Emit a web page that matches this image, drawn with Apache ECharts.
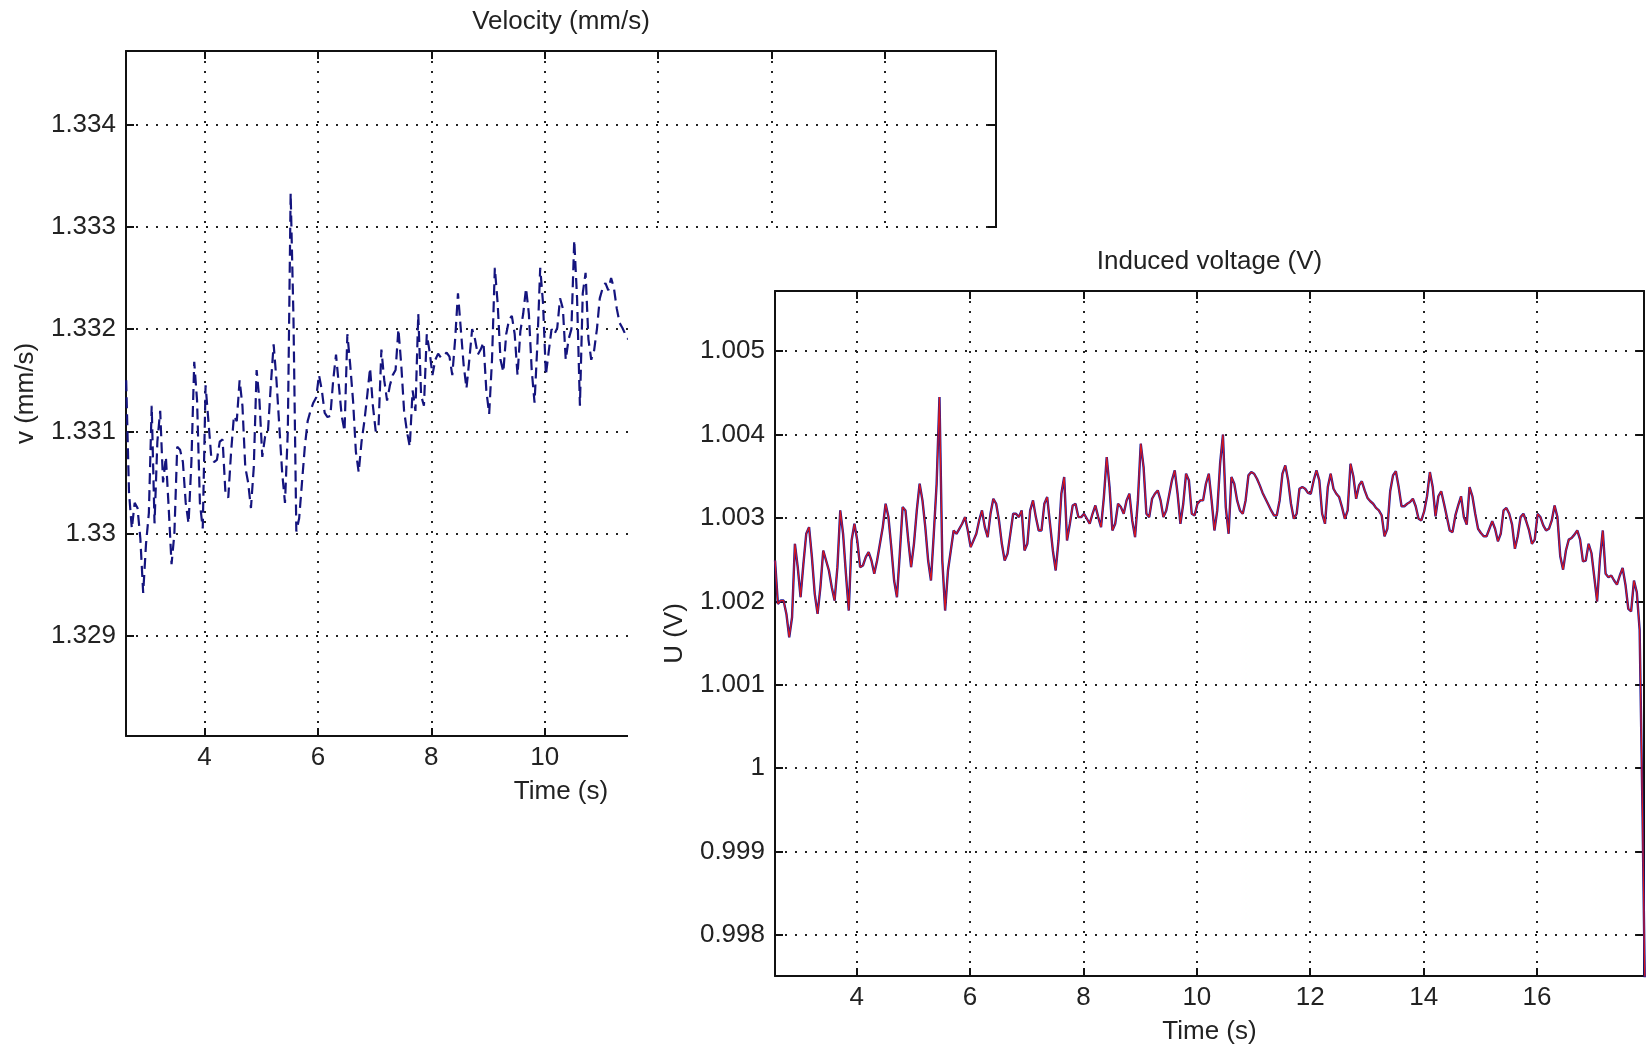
<!DOCTYPE html>
<html>
<head>
<meta charset="utf-8">
<script src="https://cdn.jsdelivr.net/npm/echarts@6/dist/echarts.min.js"></script>
<style>
html,body{margin:0;padding:0;background:#fff;}
#c1{position:absolute;left:0;top:0;width:1646px;height:1050px;}
#c2{position:absolute;left:628px;top:228px;width:1018px;height:822px;background:#fff;}
</style>
</head>
<body>
<div id="c1"></div>
<div id="c2"></div>
<script>
// ---------- data ----------
const velocityTitle = 'Velocity (mm/s)';
const voltageTitle = 'Induced voltage (V)';
const timeName = 'Time (s)';
const velocityName = 'v (mm/s)';
const voltageName = 'U (V)';

// sample times: start and step (s)
const velocityT0 = 2.62, velocityDt = 0.05;
const velocity = [
1.3315,1.3304,1.33005,1.3303,1.33025,1.32995,1.32942,1.3299,1.3302,1.33125,
1.3301,1.3309,1.3312,1.3305,1.33075,1.33025,1.3297,1.33,1.33085,1.33082,
1.3307,1.3303,1.3301,1.3307,1.33168,1.3313,1.3303,1.33005,1.33145,1.3311,
1.33075,1.3307,1.33072,1.3309,1.33092,1.3304,1.33035,1.3308,1.33115,1.3311,
1.3315,1.33125,1.33065,1.3305,1.33025,1.33065,1.3316,1.3313,1.33075,1.33095,
1.331,1.33145,1.33185,1.3315,1.33105,1.3306,1.3303,1.331,1.33333,1.3321,
1.33002,1.33015,1.3305,1.33085,1.3311,1.3312,1.33128,1.33133,1.33155,1.3314,
1.33118,1.33114,1.33115,1.3315,1.33175,1.33145,1.33115,1.331,1.33195,1.33165,
1.3313,1.3308,1.3306,1.3309,1.3311,1.33135,1.33162,1.33125,1.331,1.33105,
1.3318,1.3315,1.3313,1.33145,1.33155,1.3316,1.332,1.33165,1.3312,1.331,
1.33085,1.3314,1.3312,1.33215,1.33135,1.33125,1.33195,1.33178,1.33155,1.3317,
1.33176,1.33172,1.33174,1.33177,1.33173,1.33155,1.3319,1.33235,1.332,1.33165,
1.33142,1.3317,1.332,1.3319,1.33175,1.3318,1.33187,1.3314,1.33117,1.3317,
1.3326,1.33225,1.3317,1.33158,1.33195,1.33209,1.33213,1.33195,1.33155,1.33198,
1.33215,1.3324,1.33215,1.3316,1.33128,1.33185,1.3326,1.33225,1.33155,1.33178,
1.332,1.33195,1.33201,1.3323,1.3322,1.3317,1.3319,1.332,1.33287,1.3323,
1.33125,1.33235,1.33255,1.3319,1.3317,1.33179,1.332,1.3323,1.3324,1.33245,
1.33238,1.3325,1.3324,1.3322,1.33206,1.33201,1.33195,1.3319,1.33195,1.332,
1.3321
];

const voltageT0 = 2.56, voltageDt = 0.05;
const voltage = [
1.00249,1.00197,1.00201,1.00201,1.00185,1.00157,1.00181,1.00269,1.00241,1.00205,
1.00245,1.00281,1.00289,1.00253,1.00209,1.00185,1.00217,1.00261,1.00249,1.00237,
1.00217,1.00201,1.00241,1.00309,1.00281,1.00233,1.00189,1.00273,1.00293,1.00273,
1.00241,1.00243,1.00253,1.00259,1.00249,1.00233,1.00249,1.00269,1.00289,1.00317,
1.00301,1.00265,1.00225,1.00205,1.00257,1.00313,1.00309,1.00273,1.00241,1.00269,
1.00309,1.00341,1.00321,1.00289,1.00249,1.00225,1.00281,1.00341,1.00445,1.00249,
1.00189,1.00237,1.00261,1.00285,1.00281,1.00287,1.00293,1.00301,1.00285,1.00265,
1.00273,1.00281,1.00297,1.00309,1.00289,1.00277,1.00305,1.00323,1.00317,1.00297,
1.00269,1.00249,1.00257,1.00281,1.00305,1.00305,1.00301,1.00309,1.00261,1.00269,
1.00309,1.00321,1.00301,1.00285,1.00285,1.00317,1.00325,1.00293,1.00261,1.00237,
1.00273,1.00329,1.00349,1.00273,1.00293,1.00315,1.00317,1.00301,1.00301,1.00305,
1.00299,1.00293,1.00305,1.00315,1.00301,1.00289,1.00325,1.00373,1.00337,1.00285,
1.00293,1.00317,1.00313,1.00305,1.00321,1.00329,1.00297,1.00277,1.00321,1.00389,
1.00361,1.00305,1.00301,1.00323,1.00329,1.00333,1.00321,1.00301,1.00309,1.00327,
1.00345,1.00357,1.00329,1.00293,1.00317,1.00353,1.00345,1.00305,1.00303,1.00317,
1.00321,1.00321,1.00341,1.00353,1.00321,1.00285,1.00309,1.00365,1.004,1.00313,
1.00281,1.00349,1.00341,1.00321,1.00309,1.00305,1.00321,1.00351,1.00355,1.00353,
1.00347,1.00339,1.0033,1.00323,1.00316,1.00309,1.00303,1.00303,1.00321,1.00353,
1.00363,1.00345,1.00317,1.00299,1.00305,1.00335,1.00337,1.00335,1.0033,1.00329,
1.00345,1.00357,1.00345,1.00305,1.00293,1.00337,1.00353,1.00335,1.00329,1.00325,
1.00313,1.00299,1.00309,1.00365,1.0035,1.00323,1.00339,1.00344,1.00333,1.00324,
1.0032,1.00317,1.00312,1.00309,1.00303,1.00278,1.00287,1.00332,1.00351,1.00356,
1.00337,1.00314,1.00314,1.00317,1.00319,1.00323,1.00314,1.00299,1.00297,1.00308,
1.00326,1.00355,1.00337,1.00302,1.00326,1.00332,1.00317,1.00301,1.00285,1.00283,
1.00303,1.00315,1.00326,1.00301,1.00292,1.00337,1.00326,1.00305,1.00287,1.00282,
1.00278,1.00278,1.00287,1.00296,1.00287,1.00272,1.00281,1.00309,1.00312,1.00305,
1.00292,1.00263,1.00278,1.00301,1.00305,1.00296,1.00285,1.00269,1.00274,1.00305,
1.00301,1.00291,1.00285,1.00287,1.00297,1.00315,1.00301,1.00254,1.00238,1.00261,
1.00274,1.00276,1.0028,1.00285,1.00274,1.00248,1.00249,1.00269,1.00258,1.00229,
1.002,1.00251,1.00285,1.00233,1.00229,1.00231,1.00225,1.0022,1.00231,1.0024,
1.0022,1.00191,1.00188,1.00225,1.00211,1.00166,0.9995,0.997
];

const timeTicks = [4, 6, 8, 10, 12, 14, 16];
const timeTickLabels = ['4', '6', '8', '10', '12', '14', '16'];
const velocityTicks = [1.329, 1.33, 1.331, 1.332, 1.333, 1.334];
const velocityTickLabels = ['1.329', '1.33', '1.331', '1.332', '1.333', '1.334'];
const voltageTicks = [0.998, 0.999, 1, 1.001, 1.002, 1.003, 1.004, 1.005];
const voltageTickLabels = ['0.998', '0.999', '1', '1.001', '1.002', '1.003', '1.004', '1.005'];

// axis ranges
const velocityXRange = [2.617, 17.956];
const velocityYRange = [1.32802, 1.33472];
const voltageXRange = [2.559, 17.887];
const voltageYRange = [0.99751, 1.00572];

// ---------- styling helpers ----------
const FONT = {fontFamily: 'Liberation Sans, Arial, Helvetica, sans-serif', fontSize: 26, color: '#222'};
const AXIS_COLOR = '#111';
function labelFor(ticks, labels) {
  return function (v) {
    for (let i = 0; i < ticks.length; i++) if (Math.abs(ticks[i] - v) < 1e-9) return labels[i];
    return '';
  };
}
function axisLine() { return {show: true, onZero: false, lineStyle: {color: AXIS_COLOR, width: 2}}; }
function tick(vals) { return {show: true, inside: true, length: 8, customValues: vals, lineStyle: {color: AXIS_COLOR, width: 2}}; }
const GRID_LINE = {show: true, lineStyle: {color: '#222', width: 2, type: [2, 8]}};

function buildOption(cfg) {
  const xMain = {
    type: 'value', position: 'bottom', min: cfg.xRange[0], max: cfg.xRange[1],
    axisLine: axisLine(), axisTick: tick(timeTicks),
    axisLabel: Object.assign({customValues: timeTicks, margin: 9, formatter: labelFor(timeTicks, timeTickLabels)}, FONT),
    splitLine: GRID_LINE,
    name: timeName, nameLocation: 'middle', nameGap: 43, nameTextStyle: FONT
  };
  const xTop = {
    type: 'value', position: 'top', min: cfg.xRange[0], max: cfg.xRange[1],
    axisLine: axisLine(), axisTick: tick(timeTicks), axisLabel: {show: false}, splitLine: {show: false},
    name: cfg.title, nameLocation: 'middle', nameGap: 16, nameTextStyle: FONT
  };
  const yMain = {
    type: 'value', position: 'left', min: cfg.yRange[0], max: cfg.yRange[1],
    axisLine: axisLine(), axisTick: tick(cfg.yTicks),
    axisLabel: Object.assign({customValues: cfg.yTicks, margin: 10, formatter: labelFor(cfg.yTicks, cfg.yLabels)}, FONT),
    splitLine: GRID_LINE,
    name: cfg.yName, nameLocation: 'middle', nameGap: 87, nameRotate: 90, nameTextStyle: FONT
  };
  const yRight = {
    type: 'value', position: 'right', min: cfg.yRange[0], max: cfg.yRange[1],
    axisLine: axisLine(), axisTick: tick(cfg.yTicks), axisLabel: {show: false}, splitLine: {show: false}
  };
  return {
    animation: false,
    backgroundColor: '#fff',
    grid: {left: cfg.grid[0], top: cfg.grid[1], width: cfg.grid[2], height: cfg.grid[3], containLabel: false, outerBoundsMode: 'none'},
    xAxis: [xMain, xTop],
    yAxis: [yMain, yRight],
    series: cfg.series
  };
}

function pairs(t0, dt, vals) { return vals.map((v, i) => [t0 + i * dt, v]); }

// ---------- velocity figure ----------
const chart1 = echarts.init(document.getElementById('c1'), null, {renderer: 'canvas'});
chart1.setOption(buildOption({
  title: velocityTitle, yName: velocityName,
  xRange: velocityXRange, yRange: velocityYRange,
  yTicks: velocityTicks, yLabels: velocityTickLabels,
  grid: [126, 51, 870, 685],
  series: [{
    type: 'line', xAxisIndex: 0, yAxisIndex: 0, showSymbol: false, silent: true, z: 3,
    data: pairs(velocityT0, velocityDt, velocity),
    lineStyle: {color: '#14147e', width: 2.2, type: [11, 6]}
  }]
}));

// ---------- voltage figure (window on top) ----------
const chart2 = echarts.init(document.getElementById('c2'), null, {renderer: 'canvas'});
const voltagePairs = pairs(voltageT0, voltageDt, voltage);
chart2.setOption(buildOption({
  title: voltageTitle, yName: voltageName,
  xRange: voltageXRange, yRange: voltageYRange,
  yTicks: voltageTicks, yLabels: voltageTickLabels,
  grid: [147, 63, 869, 685],
  series: [
    {type: 'line', xAxisIndex: 0, yAxisIndex: 0, showSymbol: false, silent: true, z: 3,
     data: voltagePairs, lineStyle: {color: '#1c1c9c', width: 2.4}},
    {type: 'line', xAxisIndex: 0, yAxisIndex: 0, showSymbol: false, silent: true, z: 4,
     data: voltagePairs, lineStyle: {color: '#d8161c', width: 1.2}}
  ]
}));
</script>
</body>
</html>
